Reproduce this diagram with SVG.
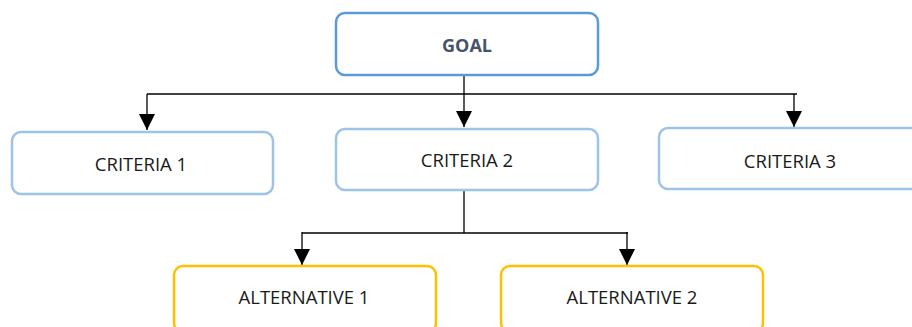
<svg xmlns="http://www.w3.org/2000/svg" width="912" height="327" viewBox="0 0 912 327">
  <style>
    .box { fill: #ffffff; stroke-width: 2.5; }
    .goal { stroke: #5b9bd5; }
    .crit { stroke: #9dc3e6; }
    .alt { stroke: #ffc000; }
    .lbl { font-family: "Open Sans", "Liberation Sans", sans-serif; font-size: 18.5px; fill: #1a1a1a; text-anchor: middle; }
    .glbl { font-family: "Open Sans", "Liberation Sans", sans-serif; font-size: 18px; font-weight: bold; fill: #44546a; text-anchor: middle; }
    .conn { stroke: #000000; stroke-width: 1.3; fill: none; }
  </style>
  <defs>
    <marker id="arrow" viewBox="0 0 16 16" refX="16" refY="8" markerWidth="16" markerHeight="16" markerUnits="userSpaceOnUse" orient="auto">
      <path d="M0,0 L16,8 L0,16 Z" fill="#000000"/>
    </marker>
  </defs>
  <rect width="912" height="327" fill="#ffffff"/>

  <g id="connectors">
    <line class="conn" x1="464" y1="76" x2="464" y2="94"/>
    <line class="conn" x1="147" y1="94" x2="797" y2="94"/>
    <line class="conn" x1="147" y1="94" x2="147" y2="130" marker-end="url(#arrow)"/>
    <line class="conn" x1="464" y1="94" x2="464" y2="127" marker-end="url(#arrow)"/>
    <line class="conn" x1="794" y1="94" x2="794" y2="127" marker-end="url(#arrow)"/>
    <line class="conn" x1="464" y1="191" x2="464" y2="233"/>
    <line class="conn" x1="302" y1="233" x2="628" y2="233"/>
    <line class="conn" x1="302" y1="232" x2="302" y2="265" marker-end="url(#arrow)"/>
    <line class="conn" x1="627" y1="232" x2="627" y2="265" marker-end="url(#arrow)"/>
  </g>

  <g id="goal">
    <rect class="box goal" x="336" y="13" width="262" height="62" rx="9"/>
    <text class="glbl" x="467" y="52">GOAL</text>
  </g>
  <g id="criteria1">
    <rect class="box crit" x="12" y="132" width="261" height="62" rx="9"/>
    <text class="lbl" x="141" y="171">CRITERIA 1</text>
  </g>
  <g id="criteria2">
    <rect class="box crit" x="336" y="129" width="262" height="61" rx="9"/>
    <text class="lbl" x="467" y="167">CRITERIA 2</text>
  </g>
  <g id="criteria3">
    <rect class="box crit" x="659" y="128" width="262" height="61" rx="9"/>
    <text class="lbl" x="790" y="168">CRITERIA 3</text>
  </g>
  <g id="alternative1">
    <rect class="box alt" x="174" y="266" width="262" height="66" rx="9"/>
    <text class="lbl" x="304" y="304">ALTERNATIVE 1</text>
  </g>
  <g id="alternative2">
    <rect class="box alt" x="501" y="266" width="262" height="66" rx="9"/>
    <text class="lbl" x="632" y="304">ALTERNATIVE 2</text>
  </g>
</svg>
